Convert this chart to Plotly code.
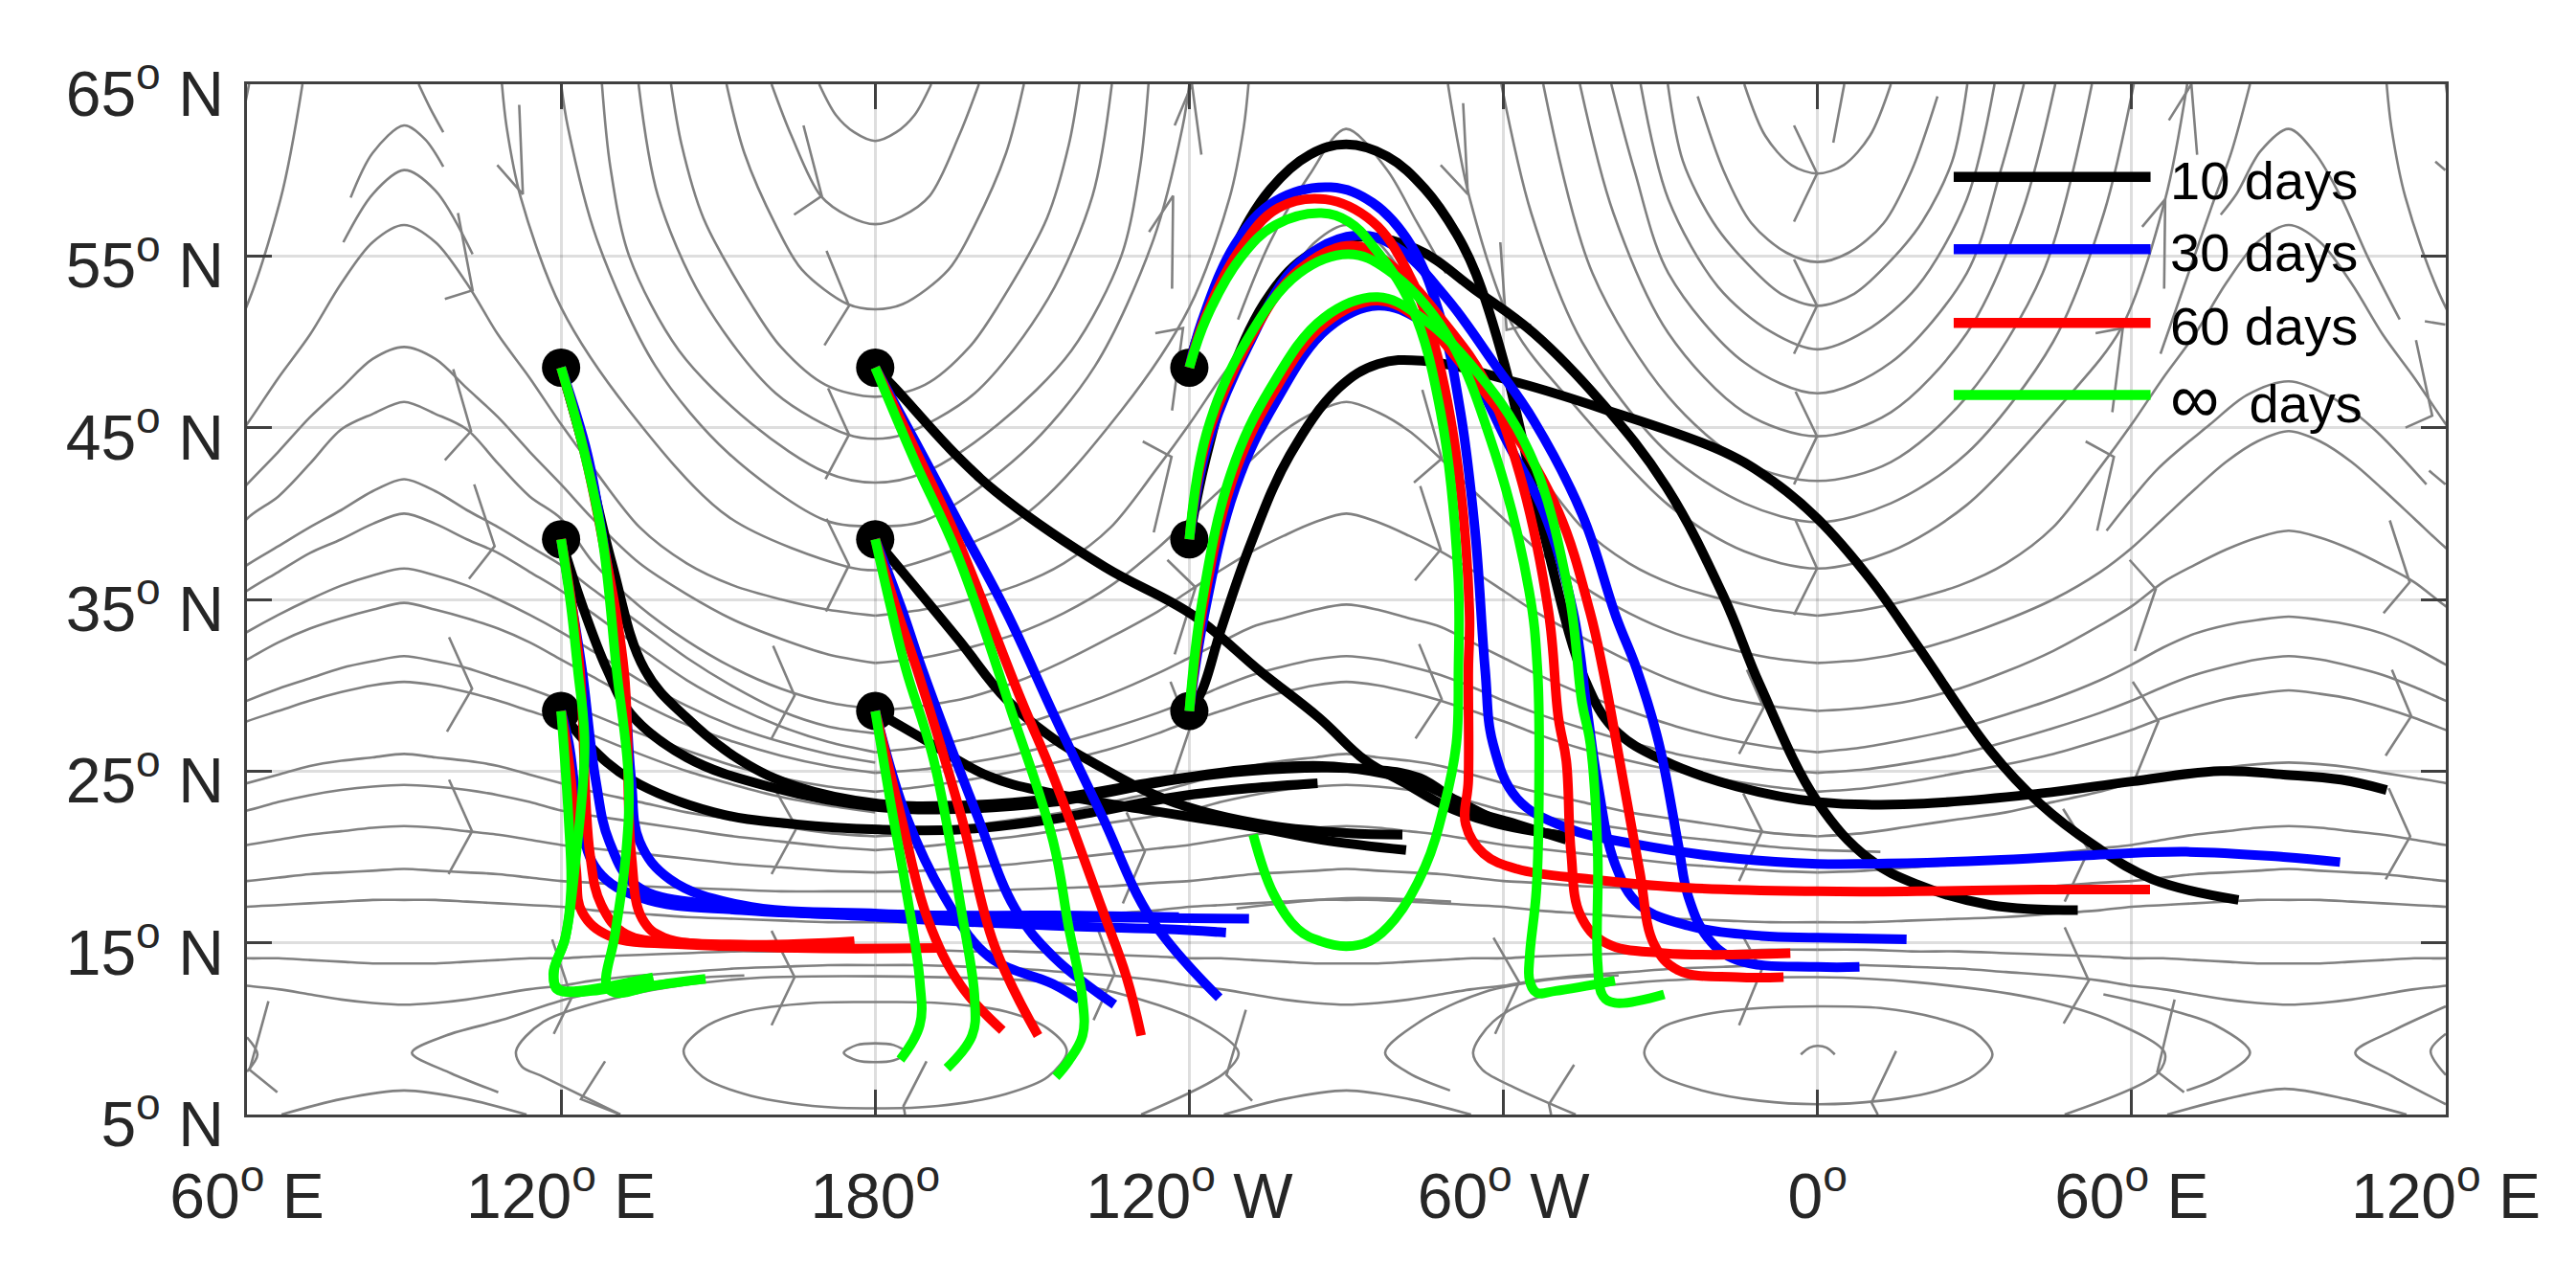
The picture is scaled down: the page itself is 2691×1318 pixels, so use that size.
import plotly.graph_objects as go

# ---------- axes ----------
lon_ticks = [60, 120, 180, 240, 300, 360, 420, 480]
lon_labels = ['60<sup>o</sup> E', '120<sup>o</sup> E', '180<sup>o</sup>', '120<sup>o</sup> W',
              '60<sup>o</sup> W', '0<sup>o</sup>', '60<sup>o</sup> E', '120<sup>o</sup> E']
lat_ticks = [5, 15, 25, 35, 45, 55, 65]
lat_labels = ['%d<sup>o</sup> N' % v for v in lat_ticks]

# ---------- release points ----------
start_lon = [120, 120, 120, 180, 180, 180, 240, 240, 240]
start_lat = [48.5, 38.5, 28.5, 48.5, 38.5, 28.5, 48.5, 38.5, 28.5]

# ---------- 10 days (lon, lat) ----------
k1 = [(240,48.5),(240.6,49.4),(248,55.1),(255.5,58.9),(263,60.9),(270,61.5),(277.8,60.8),(285,58.9),(291,56.3),(294.7,54),(300.2,48.7),(308,38.5),(315.6,30.3),(321.3,27.4),(330.7,25.6),(344.6,24.1),(360.3,23.2),(379,23.1),(402.5,23.7),(420,24.4),(437,25),(449,24.8),(460,24.5),(468.7,23.9)]
k2 = [(240,38.5),(243,43),(248,48.2),(255.5,52.8),(263,55.1),(272,56.1),(283.4,55.4),(294.7,53),(305.8,50.5),(318.9,46.4),(331,41.6),(342,35.2),(349,30),(360,23.2),(369.8,19.9),(379,18.4),(393,17.2),(409.7,16.9)]
k3 = [(240,28.5),(242.3,29.6),(246,33.2),(251.8,38.3),(259.2,43.4),(268.5,47.3),(276,48.7),(284.4,48.9),(303,47.6),(319,46.1),(342,43.6),(351.4,41.9),(360,39.7),(370,36.2),(379.3,32.2),(393,26.2),(402.5,23.1),(412.7,20.7),(424,18.7),(440.4,17.5)]
k4 = [(180,48.5),(183.8,47.3),(195.8,43.3),(205,40.8),(223.8,36.9),(240.6,34.1),(253.6,30.8),(264.8,28.1),(273.7,25.6),(281.2,24.3),(288.7,23),(298,22),(312,21.2)]
k5 = [(180,38.5),(195.8,32.7),(205,29.2),(214,26.9),(223.3,25.2),(232.7,23.7),(242,22.7),(256,21.8),(270,21.4),(280.7,21.3)]
k6 = [(180,28.5),(189,26.9),(201.7,24.7),(214,23.7),(232.7,22.7),(251.4,21.8),(265.3,21),(281.4,20.4)]
k7 = [(120,48.5),(125,43),(129.7,37.1),(136,30.9),(144,28.1),(154.4,25.6),(165,24.1),(180.7,23.1),(196.4,23),(214,23.4),(232,24.3),(251.4,25.1),(265.3,25.3),(274.7,25),(284,24.3),(291,23.3),(300,22),(312,21.2)]
k8 = [(120,38.5),(124,34.7),(128.8,30.9),(133.4,28.3),(144,25.8),(159.7,24.1),(180.7,22.9),(196.4,22.8),(214,23.2),(223.3,23.7),(237.4,24.5),(251.4,25),(265.3,25.2),(274.7,25.1),(284,24.6),(293.3,22.8),(302.6,21.9),(312,21)]
k9 = [(120,28.5),(125,26.6),(133.4,24.5),(149.2,22.6),(165,21.9),(180.7,21.6),(196.4,21.6),(214,22.2),(223.3,22.7),(237.4,23.5),(251.4,24),(264.5,24.3)]

# ---------- 30 days ----------
b1 = [(120,48.5),(125,43.5),(128,38.5),(131.8,30.9),(133.4,24.5),(135,20.9),(140.8,18.7),(154.4,17.2),(180.7,16.7),(214,16.5),(251.4,16.4)]
b2 = [(120,38.5),(122,34.8),(124,30.9),(126.6,24.5),(129.2,20.9),(134.5,18.3),(149.2,17.2),(180.7,16.5),(214,16),(235,15.8),(247,15.6)]
b3 = [(120,28.5),(121.5,26.6),(123.5,22.4),(127,19.2),(135.5,17.6),(154.4,16.9),(180.7,16.6),(214,16.6),(238,16.5)]
b4 = [(180,48.5),(188,44),(195.7,39.6),(205,34.3),(214.4,28.1),(223.3,22.4),(232.7,16.4),(245.7,11.8)]
b5 = [(180,38.5),(185,34.5),(189,30.9),(199.5,22.4),(206.7,17),(214,14.2),(225.7,11.4)]
b6 = [(180,28.5),(185.9,22.4),(193.2,17.7),(201.7,14.2),(214,12.6),(219,11.7)]
b7 = [(240,48.5),(242.4,51.2),(249,55.8),(256.4,58.2),(267,59),(275,58.1),(282.4,55.6),(288,51.4),(291.8,45.9),(294.6,38.9),(296.5,30.9),(298,26.6),(302.6,23.4),(312,21.7),(326,20.7),(344.6,19.9),(360,19.6),(369.8,19.6),(393,19.8),(411.7,20.1),(430.4,20.3),(449,20),(459.8,19.7)]
b8 = [(240,38.5),(243.5,44),(251,49.6),(261,54.6),(272,56.2),(279.6,55.5),(289,52.6),(298.3,48.7),(305.8,45.4),(315.1,39.9),(321.5,34),(325.5,30.9),(329.7,26.6),(333.4,20.7),(335.3,17.7),(339,15.3),(344.6,14),(360,13.6),(368,13.6)]
b9 = [(240,28.5),(242.8,34),(248.8,41.5),(256.5,46.5),(266.5,50.8),(276,52.1),(284.4,51.2),(292.8,48.7),(301,44),(307.7,40.1),(313.3,34.3),(316,28.5),(317.9,24.5),(321.3,19.6),(326,17.2),(335.3,16),(349.3,15.4),(360,15.3),(377,15.2)]

# ---------- 60 days ----------
r1 = [(120,48.5),(124.5,43.5),(127.9,38.5),(132,30.9),(133.4,20.2),(135.5,16.4),(139.7,15.3),(154.4,14.9),(176,15.1)]
r2 = [(120,38.5),(122,34.8),(123.6,30.9),(125.5,20.2),(127.7,17.2),(132.4,15.5),(144,15),(165,14.7),(192,14.7)]
r3 = [(120,28.5),(121.9,24.5),(122.9,19.2),(124,16.8),(129.2,15.4),(144,14.9),(160,14.8),(176,15)]
r4 = [(180,48.5),(188,43.5),(195.7,38.5),(207.8,29.2),(214,24.7),(223.3,17),(228,13),(230.8,9.6)]
r5 = [(180,38.5),(184,34.5),(188,30.9),(196.4,22.4),(202.7,14.9),(211.1,9.6)]
r6 = [(180,28.5),(184.9,22.4),(190,16.4),(196.4,12.5),(204.3,9.9)]
r7 = [(240,48.5),(243,51.4),(249.5,55.3),(257,57.8),(266,58.3),(275,57),(281.5,54.2),(286.2,50.5),(290.9,43.6),(293.5,34.3),(293.3,30.9),(293.3,24.5),(292.8,21.9),(296.2,20.2),(302.6,19.3),(316.6,18.7),(335.3,18.2),(360,18),(379,18),(402.5,18.1),(423.5,18.1)]
r8 = [(240,38.5),(243.3,44.3),(250.8,49.7),(261,54.2),(271.3,55.6),(279.6,54.2),(289,51),(296.5,47.7),(303,42.4),(308.6,34.3),(310.5,28.1),(312,25.6),(312.9,20.3),(314.7,16.6),(319.5,15),(330.7,14.4),(354.8,14.4)]
r9 = [(240,28.5),(242.6,34.5),(248.3,42),(256,47),(266,51.1),(276,52.4),(284.4,51.2),(292.8,48.4),(301,45.2),(310.5,40.1),(316.5,34.3),(319,30.9),(322.2,25.6),(326,19.2),(328.8,14.9),(333.4,13.4),(344.6,13),(353.5,13)]

# ---------- infinite ----------
g1 = [(120,48.5),(124,44.1),(127.8,38.7),(130.6,30.9),(132.9,24.5),(132.4,20.2),(130.3,15.5),(128.7,12.5),(130.3,12.1),(137.6,12.5),(147.6,12.9)]
g2 = [(120,38.5),(121.8,34.8),(123.2,30.9),(124.5,26.6),(122.9,20.2),(120.8,15.3),(118.7,13.4),(119.2,12.3),(122.9,12.2),(137.6,13)]
g3 = [(120,28.5),(121.4,22.4),(121.9,18.1),(120.8,15.3),(118.5,13.2),(119.5,12.3),(126,12.2),(134,12.7)]
g4 = [(180,48.5),(187.5,43.1),(195.7,37.6),(206,28.5),(214,20.9),(216.9,16),(219.6,11.7),(219.6,9.6),(216.9,8.1),(214.5,7.2)]
g5 = [(180,38.5),(183,34.5),(185.9,30.9),(191.2,25.6),(196.4,17),(199,11.7),(198.5,9.6),(193.7,7.7)]
g6 = [(180,28.5),(182.8,23.4),(185.9,18.1),(188.5,12.8),(188.5,10.2),(184.8,8.2)]
g7 = [(240,48.5),(243.3,51.4),(249.8,54.9),(256.4,56.8),(265.2,57.5),(270.4,57),(275,55.6),(282.4,52.1),(288,45.9),(291.3,36.6),(291.4,30.9),(291,26.6),(288.7,23),(285,19.4),(279.3,16.4),(274.5,15.1),(270,14.8),(265,15.1),(260.7,15.8),(256,17.9),(252.2,21.3)]
g8 = [(240,38.5),(243.3,44.7),(250.8,50),(261,54),(270.4,55.1),(277.8,54.2),(289,50.5),(298.3,43.6),(304.9,35.5),(306.5,30.9),(306.8,24.5),(306.3,18.1),(305,14.2),(305,12.8),(306.3,12.1),(310,12.2),(321.3,12.8)]
g9 = [(240,28.5),(242.4,34.8),(248,42.4),(255.5,47.3),(265.7,51.4),(276,52.6),(284.4,51.4),(293.7,48.7),(304.9,43.6),(312.4,35.5),(315,29),(316.6,26.6),(318,20.2),(318,13.8),(319,11.9),(321.3,11.5),(330.7,12)]

# ---------- legend ----------
legend_lon = [386, 423.6]
legend_lat = [59.6, 55.4, 51.1, 46.9]
legend_names = ['10 days', '30 days', '60 days', '<span style="font-size:72px">\u221e</span>  days']
legend_colors = ['#000000', '#0000ff', '#ff0000', '#00ff00']

# ---------- background streamlines: ridge half-lines, lat at distance from ridge ----------
ridge_d = [0, 6, 12, 18, 24, 30, 36, 45, 54, 63, 72, 81, 90]
h568 = [56.8,55.8,53.4,50.4,47.9,45.2,42.7,39.2,37.1,35.8,35.0,34.4,34.05]
h497 = [49.7,49.0,47.3,45.6,43.6,41.7,39.7,37.1,35.3,33.8,32.7,31.8,31.3]
h465a = [46.5,45.8,44.9,42.9,41.0,39.7,37.2,34.6,32.6,31.0,29.8,29.0,28.6]
h465b = [46.5,45.9,44.8,43.2,41.4,39.7,38.0,35.8,34.2,33.0,32.2,31.6,31.3]
h448 = [44.8,44.2,43.0,41.4,39.7,38.0,36.6,35.0,33.8,32.8,32.0,31.5,31.3]
h420 = [42,41.3,40.2,39.2,38.1,37,35.6,33.6,31.6,29.9,28.5,27.6,27.2]
h400 = [40,39.4,38.5,37.7,36.6,35.5,34.2,32.2,30.3,28.8,27.6,26.7,26.1]
h400b = [40,39.5,38.7,37.8,36.7,35.5,34.3,32.8,31.4,30.2,29.3,28.8,28.5]
h390 = [39,38.6,37.9,37,36,34.6,33.5,32,30.8,29.8,29.1,28.7,28.5]
h368 = [36.8,36.4,35.8,35,34.1,33.1,32,30.3,28.8,27.6,26.7,26,25.5]
h347 = [34.8,34.4,33.9,33.3,32.5,31.5,30.5,29,27.7,26.7,25.9,25.3,24.9]
h347b = [34.7,34.4,33.9,33.4,32.5,31.6,30.7,29.5,28.5,27.6,26.9,26.4,26.1]
h340 = [34,33.8,33.5,33,32.2,31.2,30.3,29.2,28.3,27.5,26.9,26.4,26.1]
h317 = [31.7,31.4,31,30.4,29.8,29.1,28.3,27.2,26.2,25.3,24.6,24.1,23.8]
h317b = [31.7,31.5,31.1,30.6,29.9,29.1,28.4,27.5,26.7,26,25.5,25.1,24.9]
h302a = [30.2,30,29.6,29.1,28.5,27.9,27.1,26.0,25,24.2,23.5,23,22.6]
h302b = [30.2,30,29.6,29.1,28.5,27.9,27.2,26.3,25.6,25,24.5,24.1,23.8]
h297 = [29.7,29.5,29.2,28.7,28.1,27.4,26.8,26,25.4,24.9,24.4,24,23.8]
h260 = [26,25.8,25.6,25.3,24.8,24.3,23.8,23.2,22.6,22.2,21.8,21.4,21.2]
h255 = [25.5,25.4,25.2,24.9,24.6,24.3,23.8,23.2,22.6,22.2,21.8,21.4,21.2]
h242 = [24.2,24.1,23.9,23.6,23.2,22.7,22.4,22,21.6,21.2,20.9,20.6,20.4]
h218 = [21.8,21.7,21.5,21.3,21,20.7,20.5,20.2,19.9,19.6,19.4,19.2,19.1]
h193 = [19.3,19.2,19.1,19,18.8,18.6,18.5,18.3,18.2,18.1,18,18,18]
h175 = [17.5,17.5,17.4,17.3,17.2,17.1,16.9,16.7,16.5,16.4,16.3,16.2,16.2]
h138 = [13.8,13.8,13.9,14,14.1,14.1,14.2,14.3,14.4,14.5,14.5,14.6,14.6]
h114 = [11.4,11.5,11.7,12,12.3,12.5,12.8,13.1,13.3,13.5,13.6,13.7,13.7]

ridge_90 = [h568,h497,h465a,h420,h400,h368,h347,h317,h302a,h260,h242,h218,h193,h175,h138,h114]
ridge_270 = [h568,h465b,h400b,h347b,h317b,h302b,h260,h242,h218,h193,h175,h138,h114]
ridge_450 = [h568,h448,h390,h340,h317b,h297,h255,h218,h193,h175,h138,h114]

# ---------- trough half-lines reaching the top: (distance from trough, lat) ----------
u180 = [
    [(0,61.7),(4,62.2),(7.5,63.2),(10.7,65)],
    [(0,56.85),(5,57.3),(10.4,58.5),(16,62),(19.8,65)],
    [(0,51.9),(5.3,52.2),(14,54.2),(19,56.8),(25,61),(28.4,65)],
    [(0,46.8),(9.5,47.5),(18,49.7),(23.5,52.1),(32.8,57.2),(37,61.5),(39,65)],
    [(0,44.35),(5.3,44.6),(19,47),(33,52.5),(41.5,58.5),(45.2,65)],
    [(0,41.8),(9.5,42.4),(23.5,45.2),(37.5,49.5),(47,55),(50.6,60.2),(52.2,65)],
    [(0,39.26),(9.5,39.6),(28,43.5),(42,48.6),(53.2,56),(58.7,62.5),(60,65)],
    [(0,36.7),(5.3,36.9),(28,39.8),(47,46),(60,52),(67.7,58.4),(70.4,62.5),(71.3,65)],
]
u360 = [
    [(0,59.8),(5,60.3),(10,62),(14,65)],
    [(0,54.65),(6,55.2),(12.6,56.9),(18,60),(22.9,64.3)],
    [(0,52.1),(7,52.8),(14.5,54.9),(20,57),(25.7,60.5),(28.6,65)],
    [(0,49.56),(9,50.6),(19,53.2),(28.5,58.3),(33.8,65)],
    [(0,47),(14,48.8),(28.5,54),(35,60),(39.4,65)],
    [(0,44.5),(14,45.9),(28.5,50.5),(39,57.5),(45.4,65)],
    [(0,41.9),(14,43),(28.5,46.8),(43,54),(52.4,65)],
    [(0,39.5),(14,40.6),(28.5,43.5),(45,50),(54.7,57.5),(60.4,65)],
    [(0,36.8),(14,37.8),(28.5,40.5),(47,46.5),(58,50.8),(66.4,58.3),(70.6,65)],
]

# ---------- free streamline pieces and eddies (lon, lat) ----------
pieces = [
    [(79.8,58.4),(84,61),(90,62.6),(94,61.8),(97.5,60.2)],
    [(78.4,55.8),(84,58.6),(90,60),(96,58.8),(103.1,55.1)],
    [(92.8,65),(95,63.6),(97.5,62.2)],
    [(249.3,51.3),(255.4,55.8),(262.9,59.7),(269.9,62.4),(277.8,60),(283.4,57),(289,54)],
    [(437,57.4),(440,58.6),(444.6,61.1),(450,62.4),(455,61),(460,58.4),(465,55),(471.2,51.3)],
    [(442.6,65),(439,61),(435.3,57.9),(425.5,49.3)],
    [(415.2,39),(425,42.6),(435,45.2),(442,46.9),(450,47.7),(458,46.8),(466,45),(476.3,41.7)],
    [(360,20.4),(372,20.3)],
    [(249,17),(270,17.6),(290,17.4)],
    # bottom ridges
    [(66.6,5),(78,5.9),(90,6.4),(102,5.9),(113.4,5)],
    [(246.6,5),(258,5.9),(270,6.4),(282,5.9),(293.8,5)],
    [(426.8,5),(438,5.9),(449.2,6.5),(461,5.9),(472.5,5)],
    # saddle branches
    [(108,6.3),(99,7.4),(91.5,8.6),(98,9.6),(108.6,10.5),(122,11.8),(140,12.8),(155,13.1)],
    [(289.8,6.4),(282,7.4),(277.4,8.6),(284,10.4),(296,12.1),(310,12.9),(322,13.1)],
    [(430.5,6.4),(437,7.2),(442.6,8.6),(436,10.2),(426,11.2),(414.6,12)],
    [(480,11.3),(470,9.9),(462.7,8.6),(470,7.2),(480,5.6)],
    [(480,9.7),(477.1,8.7),(480,7.3)],
    [(60,9.5),(62,8.5),(60,7.5)],
    # outer eddy rings
    [(131.3,5),(116.6,7.2),(112.5,7.8),(111.4,8.7),(116.6,10.4),(133.4,12),(154.4,12.9),(180,13.05),(214,12.7),(226,12.1),(242,10.4),(249.4,8.6),(246.6,7.4),(230.8,5)],
    [(313.8,5),(302.6,6.5),(296,7.6),(294.2,8.6),(298,10.4),(307.3,11.9),(326,12.7),(360,13),(379,12.7),(402.5,11.7),(416.5,10.4),(426.3,8.6),(425,7.4),(407.2,5)],
    # inner eddy rings
    [(143.4,8.7),(147,10),(155,11),(168,11.5),(180,11.55),(192,11.5),(205,11),(213,10),(216.6,8.7),(213,7.2),(205,6.2),(192,5.5),(180,5.36),(168,5.5),(155,6.2),(147,7.2),(143.4,8.7)],
    [(326.9,8.6),(330,10),(338,10.8),(349,11.2),(360,11.3),(372,11.2),(383,10.6),(390,9.8),(393.4,8.5),(390,7.3),(383,6.4),(372,5.8),(360,5.6),(349,5.8),(338,6.4),(330,7.3),(326.9,8.6)],
    [(174,8.6),(176.5,9.05),(180,9.15),(183.5,9.05),(186,8.6),(183.5,8.15),(180,8.05),(176.5,8.15),(174,8.6)],
    [(356.8,8.5),(358.5,8.9),(360,9),(361.7,8.9),(363.3,8.5)],
]

# ---------- direction barbs: (arm, tip, arm) ----------
barbs = [
    [(107.8,60.3),(112.7,58.6),(112,63.8)], [(97.8,52.5),(103.1,53),(100.3,57.5)],
    [(97.8,43.1),(102.8,44.8),(99.4,48.4)], [(102.4,36.2),(107.3,38.1),(103.4,41.7)],
    [(164.5,57.4),(169.8,58.5),(166.3,62.6)], [(170.3,49.8),(175,52.1),(170.7,55.3)],
    [(170.5,42),(175,44.6),(171,47.3)], [(170.6,34.3),(175,37),(170.7,39.7)],
    [(98.2,27.3),(103,29.8),(98.6,32.8)], [(98.5,19),(103,21.5),(98.6,24.5)],
    [(65.8,6.3),(60.5,7.6),(64.1,11.6)], [(118.6,9.7),(122,11.8),(118.3,15.2)],
    [(128.4,8.1),(123.8,5.9),(131.3,5)],
    [(160.2,26.9),(164.6,29.4),(160.5,32.3)], [(160.2,19),(165,21.7),(160.2,24.3)],
    [(160.2,10.2),(164.6,13),(160.2,15.7)], [(189.8,8.1),(185.4,5.5),(185.7,5)],
    [(227.3,17.3),(231.5,20.3),(228,22.6)], [(221.7,10.5),(225.7,13.2),(222.4,15.9)],
    [(236.4,30.2),(240,27.4),(236.9,24.6)], [(250.8,11.1),(247.1,7.3),(252,5.8)],
    [(283.2,26.9),(288.2,29.2),(283.9,32.4)], [(298.4,9.7),(303,12.7),(298.1,15.3)],
    [(313.5,7.9),(308.7,5.6),(309.1,5)], [(345,26),(349.7,28.7),(346.5,30.9)],
    [(345,18.6),(349.4,21.5),(345.8,23.7)], [(345,10.2),(349.3,13.4),(345.7,15.4)],
    [(232.3,56.4),(236.9,58.5),(236.7,53.1)], [(237.2,62.6),(240.5,65),(242.3,60.9)],
    [(233.5,50.5),(238.8,50.8),(236.7,46)], [(231.1,44.2),(236.6,43.3),(233.2,38.9)],
    [(235.8,37.3),(241.2,35.7),(237.2,31.8)], [(288,60.3),(293.2,58.6),(292.3,63.9)],
    [(299.4,55.8),(300.6,50.7),(305.3,51)], [(282.9,41.8),(288.2,43.2),(284.5,47.2)],
    [(283.1,36.1),(288,37.9),(284.1,41.6)],
    [(355.5,62.6),(359.9,59.8),(355.5,57)], [(355.5,54.8),(359.9,52.1),(355.5,49.3)],
    [(355.8,47.1),(359.9,44.5),(355.5,41.7)], [(355.8,39.6),(359.9,36.8),(355.5,34.1)],
    [(363,61.6),(365.1,65),(365.1,65)],
    [(422,56.7),(426.4,58.3),(426.2,53.1)], [(413.1,50.5),(418.3,50.8),(416.3,45.9)],
    [(411.2,44.2),(416.6,43.3),(413.4,39)], [(419.6,37.3),(424.6,35.6),(420.6,32)],
    [(427.1,62.9),(431.4,65),(432.5,60.9)], [(472.3,45),(477.4,45.7),(474.3,50.1)],
    [(468.1,34.2),(473.1,36),(469.3,39.6)], [(469.1,24),(473.2,21.2),(468.5,18.7)],
    [(420.2,30.2),(425.1,27.9),(420.7,24.6)], [(407.2,15.9),(411.8,12.8),(407,10.3)],
    [(407.2,17.4),(411.8,20.4),(406.9,22.8)], [(375,8.7),(370.3,5.7),(371.5,5)],
    [(469.7,30.9),(473.4,28.2),(468.5,25.9)], [(428.2,11.7),(424.9,7.5),(430,6.3)],
    [(478,60.5),(479.9,60),(479.9,60)], [(476,51.2),(479.9,51),(479.9,51)],
    [(476.8,42.5),(479.9,41.7),(479.9,41.7)],
]

GRAY = '#808080'
GRAY_W = 2.6
TRACK_W = 10
FONT = 'Liberation Sans, Arial, sans-serif'
TEXT = '#262626'

fig = go.Figure()

# streamlines
gx, gy = [], []
def add(points):
    gx.extend(p[0] for p in points)
    gy.extend(p[1] for p in points)
    gx.append(None)
    gy.append(None)

def add_ridge(center, half):
    pts = [(center - d, v) for d, v in zip(ridge_d[::-1], half[::-1])]
    pts += [(center + d, v) for d, v in zip(ridge_d[1:], half[1:])]
    kept = [p for p in pts if 50 <= p[0] <= 490]
    add(kept)

for half in ridge_90:
    add_ridge(90, half)
for half in ridge_270:
    add_ridge(270, half)
for half in ridge_450:
    add_ridge(450, half)

def add_trough(center, half):
    add([(center - d, v) for d, v in half[::-1]] + [(center + d, v) for d, v in half[1:]])

for half in u180:
    add_trough(180, half)
for half in u360:
    add_trough(360, half)
for half in u360[-2:]:
    add_trough(0, half)
for half in u180[-2:]:
    add_trough(540, half)
for piece in pieces:
    add(piece)

fig.add_trace(go.Scatter(x=gx, y=gy, mode='lines', showlegend=False, hoverinfo='skip',
                         line=dict(color=GRAY, width=GRAY_W, shape='spline', smoothing=0.9)))

bx, by = [], []
for b in barbs:
    bx.extend(p[0] for p in b)
    by.extend(p[1] for p in b)
    bx.append(None)
    by.append(None)
fig.add_trace(go.Scatter(x=bx, y=by, mode='lines', showlegend=False, hoverinfo='skip',
                         line=dict(color=GRAY, width=GRAY_W)))

def add_tracks(tracks, color):
    for t in tracks:
        fig.add_trace(go.Scatter(x=[p[0] for p in t], y=[p[1] for p in t], mode='lines',
                                 showlegend=False, hoverinfo='skip',
                                 line=dict(color=color, width=TRACK_W, shape='spline', smoothing=1.1)))

add_tracks([k1, k2, k3, k4, k5, k6, k7, k8, k9], legend_colors[0])
fig.add_trace(go.Scatter(x=start_lon, y=start_lat, mode='markers', showlegend=False, hoverinfo='skip',
                         marker=dict(color='#000000', size=40)))
add_tracks([b1, b2, b3, b4, b5, b6, b7, b8, b9], legend_colors[1])
add_tracks([r1, r2, r3, r4, r5, r6, r7, r8, r9], legend_colors[2])
add_tracks([g1, g2, g3, g4, g5, g6, g7, g8, g9], legend_colors[3])

# legend keys and labels
for lat, name, color in zip(legend_lat, legend_names, legend_colors):
    fig.add_trace(go.Scatter(x=legend_lon, y=[lat, lat], mode='lines', name=name, showlegend=False,
                             hoverinfo='skip', line=dict(color=color, width=10.5)))
    fig.add_annotation(x=427.0, y=lat - 0.2, text=name, showarrow=False, xanchor='left', yanchor='middle',
                       font=dict(family=FONT, size=56, color='#000000'))

axis = dict(showline=True, linecolor='#404040', linewidth=3, mirror='ticks', ticks='inside', ticklen=26,
            tickwidth=3, tickcolor='#404040', showgrid=True, gridcolor='rgba(0,0,0,0.13)', gridwidth=3,
            zeroline=False, tickfont=dict(family=FONT, size=66, color=TEXT))

fig.update_layout(
    width=2691, height=1318, autosize=False, paper_bgcolor='white', plot_bgcolor='white',
    margin=dict(l=258, r=136, t=88, b=154), showlegend=False,
    xaxis=dict(axis, range=[60, 480], tickmode='array', tickvals=lon_ticks, ticktext=lon_labels,
               ticklabelstandoff=26),
    yaxis=dict(axis, range=[5, 65], tickmode='array', tickvals=lat_ticks, ticktext=lat_labels,
               ticklabelstandoff=8, ticklabelshift=10),
)

fig.write_html("out.html", config={'displayModeBar': False},
               post_script="document.body.style.margin='0';")
